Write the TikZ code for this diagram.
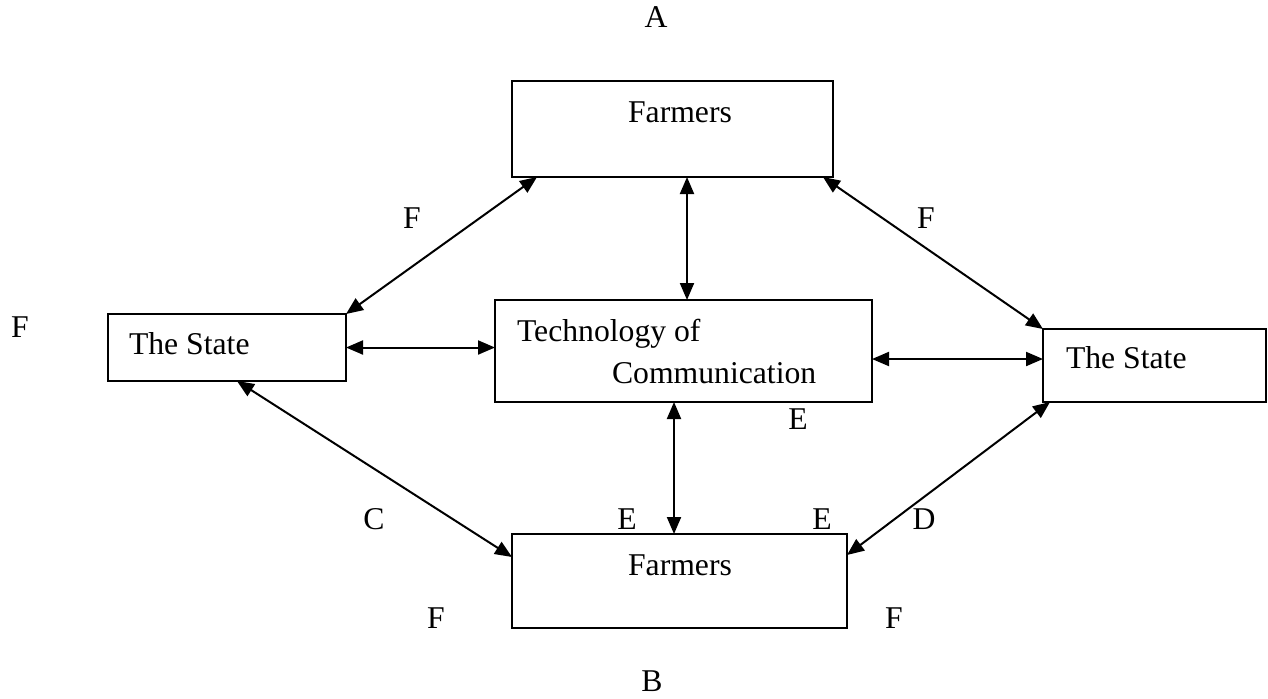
\documentclass[tikz,border=0pt]{standalone}
\usepackage{fontspec}
\setmainfont{Liberation Serif}
\usetikzlibrary{arrows.meta}
\begin{document}
\begin{tikzpicture}[x=0.5pt,y=-0.5pt,
  box/.style={draw,line width=1pt,inner sep=0,outer sep=0,rectangle},
  txt/.style={inner sep=0,outer sep=0,font=\fontsize{15.85}{19}\selectfont},
  link/.style={line width=1pt,{Triangle[length=8.5pt,width=7pt]}-{Triangle[length=8.5pt,width=7pt]}}]
\useasboundingbox (0,0) rectangle (1268,698);
% boxes
\node[box,minimum width=160.5pt,minimum height=48pt] (tf) at (672.5,129) {};
\node[box,minimum width=119pt,minimum height=33.5pt] (ls) at (227,347.5) {};
\node[box,minimum width=188.5pt,minimum height=51pt] (tech) at (683.5,351) {};
\node[box,minimum width=111.5pt,minimum height=36.5pt] (rs) at (1154.5,365.5) {};
\node[box,minimum width=167.5pt,minimum height=47pt] (bf) at (679.5,581) {};
% box texts
\node[txt,anchor=base] (tft) at (680,122) {Farmers};
\node[txt,anchor=base west] (lst) at (129,354) {The State};
\node[txt,anchor=base west] (tt1) at (517,341) {Technology of};
\node[txt,anchor=base west] (tt2) at (612,383) {Communication};
\node[txt,anchor=base west] (rst) at (1066,368) {The State};
\node[txt,anchor=base] (bft) at (680,575) {Farmers};
% connectors
\draw[link] ([xshift=12.5pt]tf.south west) -- (ls.north east);
\draw[link] ([xshift=7.25pt]tf.south) -- ([xshift=1.75pt]tech.north);
\draw[link] ([xshift=-5pt]tf.south east) -- (rs.north west);
\draw[link] (ls.east) -- (ls.east -| tech.west);
\draw[link] ([yshift=3.25pt]rs.west) -- ([yshift=3.25pt]rs.west -| tech.east);
\draw[link] ([xshift=5pt]ls.south) -- ([yshift=-11.5pt]bf.north west);
\draw[link] ([xshift=-4.75pt]tech.south) -- ([xshift=-2.75pt]bf.north);
\draw[link] ([xshift=3.5pt]rs.south west) -- ([yshift=-10.5pt]bf.north east);
% labels
\node[txt,anchor=base] (la) at (656,27) {A};
\node[txt,anchor=base] (lf1) at (412,228) {F};
\node[txt,anchor=base] (lf2) at (926,228) {F};
\node[txt,anchor=base] (lf3) at (20,337) {F};
\node[txt,anchor=base] (le1) at (798,429) {E};
\node[txt,anchor=base] (lc) at (374,529) {C};
\node[txt,anchor=base] (le2) at (627,529) {E};
\node[txt,anchor=base] (le3) at (822,529) {E};
\node[txt,anchor=base] (ld) at (924,529) {D};
\node[txt,anchor=base] (lf4) at (436,628) {F};
\node[txt,anchor=base] (lf5) at (894,628) {F};
\node[txt,anchor=base] (lb) at (652,691) {B};
\end{tikzpicture}
\end{document}
